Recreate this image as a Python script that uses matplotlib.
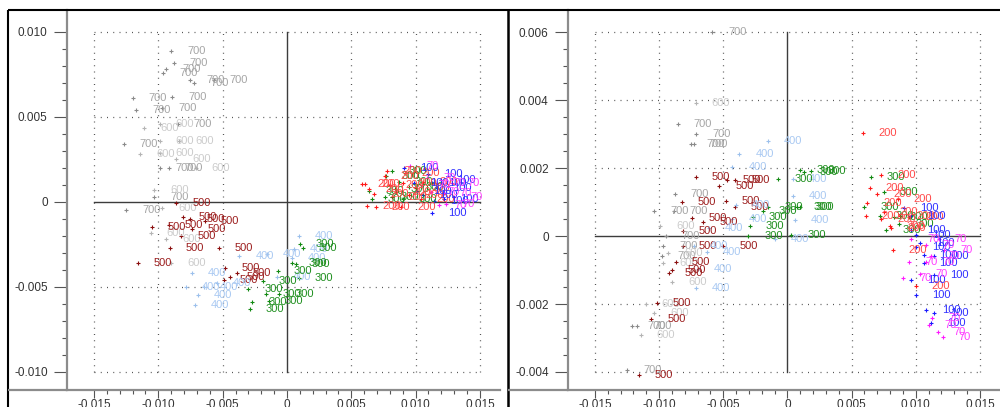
import numpy as np
import matplotlib
matplotlib.use("Agg")
import matplotlib.pyplot as plt
from matplotlib.lines import Line2D
from matplotlib.ticker import FixedLocator, FuncFormatter

plt.rcParams['font.family'] = ['Liberation Sans', 'DejaVu Sans']

# ---- left plot: component scores, one list of (x, y) per group ----
left_700 = [(-0.0090, 0.0089), (-0.0088, 0.0082), (-0.0094, 0.0078), (-0.0096, 0.0076),
            (-0.0075, 0.0072), (-0.0072, 0.0070), (-0.0057, 0.0072), (-0.0120, 0.0061),
            (-0.0089, 0.0062), (-0.0117, 0.0054), (-0.0097, 0.0055), (-0.0127, 0.0034),
            (-0.0085, 0.0046), (-0.0099, 0.0020), (-0.0092, 0.0020), (-0.0103, 0.0003),
            (-0.0125, -0.0005)]
left_600 = [(-0.0111, 0.00435), (-0.0099, 0.0046), (-0.0099, 0.0036), (-0.0114, 0.0028),
            (-0.0099, 0.0029), (-0.0086, 0.0025), (-0.0071, 0.0020), (-0.0103, 0.0007),
            (-0.0097, -0.00035), (-0.0094, -0.0022), (-0.0106, -0.0018), (-0.0090, -0.0036),
            (-0.0084, 0.0036)]
left_500 = [(-0.0086, -0.00005), (-0.0081, -0.0009), (-0.0075, -0.0010), (-0.0105, -0.0015),
            (-0.0092, -0.00135), (-0.0074, -0.0016), (-0.0082, -0.0020), (-0.0091, -0.0027),
            (-0.0116, -0.0036), (-0.0053, -0.0027), (-0.0048, -0.0039), (-0.0049, -0.0046),
            (-0.0039, -0.0042), (-0.0064, -0.0011), (-0.0044, -0.0044)]
left_400 = [(0.0009, -0.0020), (0.00055, -0.00275), (-0.0037, -0.0032), (-0.00155, -0.00305),
            (-0.0074, -0.0042), (-0.00785, -0.0050), (-0.00645, -0.0050), (-0.0069, -0.0055),
            (-0.00715, -0.00605), (-0.00545, -0.00475), (-0.0008, -0.0044), (0.0004, -0.0033)]
left_300 = [(0.0010, -0.00247), (0.00125, -0.0027), (0.0004, -0.0036), (0.0007, -0.00365),
            (-0.0007, -0.00405), (0.0009, -0.0045), (-0.0019, -0.00465), (-0.0030, -0.0051),
            (-0.0016, -0.0054), (-0.0006, -0.0054), (-0.0027, -0.0059), (-0.0029, -0.0063),
            (-0.0014, -0.0058),
            (0.0064, 0.00065), (0.0066, 0.0002), (0.0082, 0.0018), (0.0084, 0.00076),
            (0.0077, 0.0015), (0.0076, 0.0003), (0.0090, 0.0002), (0.0095, 0.0009),
            (0.0087, 0.0012)]
left_200 = [(0.0058, 0.00106), (0.0061, 0.00106), (0.0064, 0.00076), (0.0068, 0.00047),
            (0.0062, -0.00024), (0.0078, 0.0018), (0.0076, 0.0015), (0.0069, -0.0003),
            (0.0089, -0.0003), (0.0080, 0.0010), (0.0085, 0.0006), (0.0090, 0.0011),
            (0.0095, 0.0004), (0.0100, 0.0008), (0.0104, 0.0002), (0.0092, 0.0017),
            (0.0082, 0.0003), (0.0106, 0.0012)]
left_100 = [(0.0113, -0.00065), (0.0091, 0.0020), (0.0110, 0.00165), (0.0113, 0.0011),
            (0.0099, 0.0011), (0.0114, 0.00006), (0.0101, 0.00065), (0.0122, 0.0002),
            (0.0117, 0.0008), (0.0120, 0.0013), (0.0106, 0.0004)]
left_70 = [(0.0096, 0.0021), (0.0122, 0.0005), (0.0124, -0.0001), (0.0109, 0.0014),
           (0.0117, 0.0011), (0.0112, 0.0006), (0.0128, 0.0011), (0.0105, 0.0010),
           (0.0118, -0.0002), (0.0130, 0.0003)]

# ---- right plot ----
right_700 = [(-0.00585, 0.0060), (-0.00855, 0.0033), (-0.0071, 0.0030), (-0.00755, 0.0027),
             (-0.0073, 0.0027), (-0.0088, 0.00125), (-0.0104, 0.00075), (-0.00885, 0.00075),
             (-0.0095, 0.0000), (-0.0097, -0.0003), (-0.0098, -0.0006), (-0.01215, -0.00265),
             (-0.0117, -0.00265), (-0.0125, -0.00395)]
right_600 = [(-0.00715, 0.0039), (-0.0099, 0.0003), (-0.0097, -0.0008), (-0.0090, -0.00135),
             (-0.01105, -0.0020), (-0.0104, -0.00225), (-0.01145, -0.0029), (-0.0093, -0.0005)]
right_500 = [(-0.00715, 0.00175), (-0.0053, 0.00147), (-0.00405, 0.00165), (-0.00475, 0.00165),
             (-0.00825, 0.0010), (-0.0048, 0.00103), (-0.0041, 0.00085), (-0.0074, 0.00053),
             (-0.00655, 0.0004), (-0.00815, 0.00015), (-0.00815, -0.0003), (-0.0050, -0.0003),
             (-0.0087, -0.00075), (-0.0090, -0.0010), (-0.00925, -0.0011), (-0.0102, -0.00197),
             (-0.0106, -0.00245), (-0.0116, -0.0041)]
right_400 = [(-0.00155, 0.0028), (-0.00375, 0.0024), (-0.0043, 0.00203), (0.0004, 0.00118),
             (0.00055, 0.00047), (-0.00095, -0.0001), (0.0004, 0.00168), (-0.0040, 0.0009),
             (-0.0061, 0.00024), (-0.0063, -0.00047), (-0.0070, -0.00097), (-0.00715, -0.00153),
             (-0.0073, -0.0003), (-0.0043, 0.0005)]
right_300 = [(-0.0007, 0.00168), (0.0010, 0.00194), (0.00125, 0.00188), (0.00185, 0.0019),
             (-0.0015, 0.00085), (-0.0019, 0.00075), (-0.0027, 0.00056), (-0.00295, 0.0003),
             (-0.00305, 0.0000), (0.00078, 0.00085), (0.00095, 0.00085), (0.0003, 0.00003),
             (0.0065, 0.00174), (0.0060, 0.00085), (0.0077, 0.00018), (0.0075, 0.0013),
             (0.0083, 0.00055), (0.0087, 0.00035), (0.0072, 0.0006)]
right_200 = [(0.00585, 0.00303), (0.0073, 0.0018), (0.0064, 0.0014), (0.0070, 0.00124),
             (0.0062, 0.00097), (0.0061, 0.00059), (0.0073, 0.0005), (0.0082, -0.0004),
             (0.0081, 0.00024), (0.0100, -0.00147), (0.0086, 0.00109), (0.0075, 0.0007),
             (0.0088, 0.0006), (0.0095, 0.00055), (0.0080, 0.0003)]
right_100 = [(0.0091, 0.00082), (0.00965, 0.00059), (0.00965, 0.00018), (0.0100, 0.00003),
             (0.0100, -0.00032), (0.0103, -0.0002), (0.0106, -0.00056), (0.0106, -0.0008),
             (0.0114, -0.00115), (0.00965, -0.00129), (0.0100, -0.00174), (0.0108, -0.00218),
             (0.0114, -0.00226), (0.0112, -0.00256), (0.0114, -0.0006)]
right_70 = [(0.00965, -0.00009), (0.0108, -0.00026), (0.0095, -0.00076), (0.0108, -0.00076),
            (0.0090, -0.00124), (0.0103, -0.00112), (0.0113, -0.00241), (0.0117, -0.00282),
            (0.0121, -0.00297), (0.0110, -0.00262), (0.0118, -0.0001), (0.0122, -0.0004),
            (0.0112, -0.0006)]

# label text, marker colour, text colour
STYLE = {
    '700': ('#8a8a8a', '#a6a6a6'),
    '600': ('#b4b4b4', '#cccccc'),
    '500': ('#8b0f0f', '#9c1e1e'),
    '400': ('#9cc0ec', '#a9c9f2'),
    '300': ('#138a13', '#1f8f1f'),
    '200': ('#ff1a1a', '#ff4a4a'),
    '100': ('#1a1aff', '#3030ff'),
    '70': ('#ff1aff', '#ff40ff'),
}

left_groups = [('700', left_700), ('600', left_600), ('500', left_500), ('400', left_400),
               ('300', left_300), ('200', left_200), ('100', left_100), ('70', left_70)]
right_groups = [('700', right_700), ('600', right_600), ('500', right_500), ('400', right_400),
                ('300', right_300), ('200', right_200), ('100', right_100), ('70', right_70)]

W, H = 1000, 407
fig = plt.figure(figsize=(W / 100, H / 100), dpi=100)


def fx(px):
    return px / W


def fy(py):
    return (H - py) / H


def tick_fmt(v, _):
    return '0' if abs(v) < 1e-12 else f'{v:.3f}'


def draw_panel(left_px, groups, ylim, ymajor, yminor):
    ax = fig.add_axes([fx(left_px), fy(390), fx(1000 - 568 + 0) if left_px > 500 else fx(500 - left_px),
                       fy(10) - fy(390)])
    ax.set_xlim(-0.0171, 0.01656)
    ax.set_ylim(*ylim)

    xmajor = np.arange(-0.015, 0.0151, 0.005)
    xminor = np.arange(-0.015, 0.0151, 0.001)
    ax.xaxis.set_major_locator(FixedLocator(xmajor))
    ax.xaxis.set_minor_locator(FixedLocator(xminor))
    ax.yaxis.set_major_locator(FixedLocator(ymajor))
    ax.yaxis.set_minor_locator(FixedLocator(yminor))
    ax.xaxis.set_major_formatter(FuncFormatter(tick_fmt))
    ax.yaxis.set_major_formatter(FuncFormatter(tick_fmt))

    ax.tick_params(axis='y', which='major', length=9.4, width=0.8, pad=4.5,
                   color='#555555', labelsize=8.5, labelcolor='#333333')
    ax.tick_params(axis='y', which='minor', length=3.6, width=0.8, color='#555555')
    ax.tick_params(axis='x', which='major', length=5.8, width=0.8, pad=0.5,
                   color='#555555', labelsize=8.5, labelcolor='#333333')
    ax.tick_params(axis='x', which='minor', length=2.9, width=0.8, color='#555555')

    for side in ('top', 'right'):
        ax.spines[side].set_visible(False)
    for side in ('left', 'bottom'):
        ax.spines[side].set_color('#8c8c8c')
        ax.spines[side].set_linewidth(1.6)

    # dotted grid only inside the scaled region
    y0, y1 = ymajor[0], ymajor[-1]
    dots = (0, (0.8, 4.2))
    for x in xmajor:
        if abs(x) > 1e-12:
            ax.plot([x, x], [y0, y1], ls=dots, lw=0.9, color='#555555', zorder=1)
    for y in ymajor:
        if abs(y) > 1e-12:
            ax.plot([xmajor[0], xmajor[-1]], [y, y], ls=dots, lw=0.9, color='#555555', zorder=1)
    # origin cross
    ax.plot([xmajor[0], xmajor[-1]], [0, 0], color='#3c3c3c', lw=1.0, zorder=2)
    ax.plot([0, 0], [y0, y1], color='#3c3c3c', lw=1.0, zorder=2)

    for label, pts in groups:
        mcol, tcol = STYLE[label]
        xs = [p[0] for p in pts]
        ys = [p[1] for p in pts]
        ax.plot(xs, ys, '+', ms=3, mew=0.8, color=mcol, zorder=3)
        for x, y in zip(xs, ys):
            ax.annotate(label, (x, y), xytext=(11.5, 0), textcoords='offset points',
                        va='center', ha='left', fontsize=8, color=tcol, zorder=4)
    return ax


draw_panel(67, left_groups, (-0.01106, 0.01129),
           np.arange(-0.010, 0.0101, 0.005), np.arange(-0.010, 0.0101, 0.001))
draw_panel(568, right_groups, (-0.00453, 0.00665),
           np.arange(-0.004, 0.0061, 0.002), np.arange(-0.004, 0.0061, 0.0005))


def frame_line(x0, y0, x1, y1, color, lw):
    fig.add_artist(Line2D([fx(x0), fx(x1)], [fy(y0), fy(y1)], transform=fig.transFigure,
                          color=color, lw=lw, solid_capstyle='butt'))


# panel borders
frame_line(8, 10, 1000, 10, 'black', 1.5)
frame_line(8, 10, 8, 407, 'black', 1.5)
frame_line(508, 10, 508, 407, 'black', 1.8)
frame_line(8, 390, 67, 390, '#8c8c8c', 1.6)
frame_line(508, 390, 568, 390, '#8c8c8c', 1.6)

fig.savefig('out.png', dpi=100)
